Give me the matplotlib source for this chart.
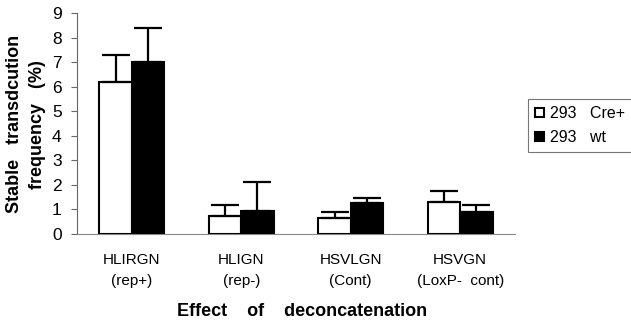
import matplotlib
matplotlib.use("Agg")
import matplotlib.pyplot as plt
import numpy as np

plt.rcParams['font.family'] = ['Liberation Sans', 'DejaVu Sans']

categories = ["HLIRGN\n(rep+)", "HLIGN\n(rep-)", "HSVLGN\n(Cont)", "HSVGN\n(LoxP-  cont)"]
cre_vals = [6.2, 0.75, 0.65, 1.3]
cre_err = [1.1, 0.45, 0.25, 0.45]
wt_vals = [7.0, 0.95, 1.25, 0.9]
wt_err = [1.4, 1.15, 0.2, 0.3]
series_labels = ["293   Cre+", "293   wt"]
yticks = [0, 1, 2, 3, 4, 5, 6, 7, 8, 9]

fig = plt.figure(figsize=(6.31, 3.22), dpi=100)
ax = fig.add_axes([77/631, 1-234/322, (515-77)/631, (234-13)/322])

x = np.arange(len(categories))
w = 0.295
ekw = dict(elinewidth=1.6, capsize=10, capthick=1.6, ecolor='black')
ax.bar(x - w/2, cre_vals, w, color='white', edgecolor='black', linewidth=1.5,
       yerr=[np.zeros(4), cre_err], error_kw=ekw, label=series_labels[0], zorder=3)
ax.bar(x + w/2, wt_vals, w, color='black', edgecolor='black', linewidth=1.5,
       yerr=[np.zeros(4), wt_err], error_kw=ekw, label=series_labels[1], zorder=3)

ax.set_xlim(-0.5, 3.5)
ax.set_ylim(0, 9)
ax.set_yticks(yticks)
ax.set_yticklabels([str(t) for t in yticks], fontsize=12.5)
ax.set_xticks(x)
ax.set_xticklabels(categories, fontsize=11, linespacing=1.6)
ax.tick_params(axis='x', length=0, pad=14)
ax.tick_params(axis='y', length=4, width=0.8, color='#666666', pad=7)
for s in ['top', 'right']:
    ax.spines[s].set_visible(False)
ax.spines['left'].set_color('#666666')
ax.spines['left'].set_linewidth(0.8)
ax.spines['bottom'].set_color('#888888')
ax.spines['bottom'].set_linewidth(0.8)
ax.spines['bottom'].set_linestyle((0, (6, 1)))

fig.text(15/631, 1-124/322, "Stable   transdcution", rotation=90, ha='center', va='center',
         fontsize=13, fontweight='bold')
fig.text(38/631, 1-125/322, "frequency   (%)", rotation=90, ha='center', va='center',
         fontsize=13, fontweight='bold')
fig.text(302/631, 1-311/322, "Effect    of    deconcatenation", ha='center', va='center',
         fontsize=13, fontweight='bold')

leg = fig.legend(loc='upper left', bbox_to_anchor=(528/631, 1-99/322), fontsize=11.5,
                 frameon=True, fancybox=False, handlelength=0.55, handleheight=0.55,
                 handletextpad=0.4, borderpad=0.45, labelspacing=0.55, borderaxespad=0)
leg.get_frame().set_edgecolor('#555555')
leg.get_frame().set_linewidth(0.8)

fig.savefig("out.png", dpi=100)
